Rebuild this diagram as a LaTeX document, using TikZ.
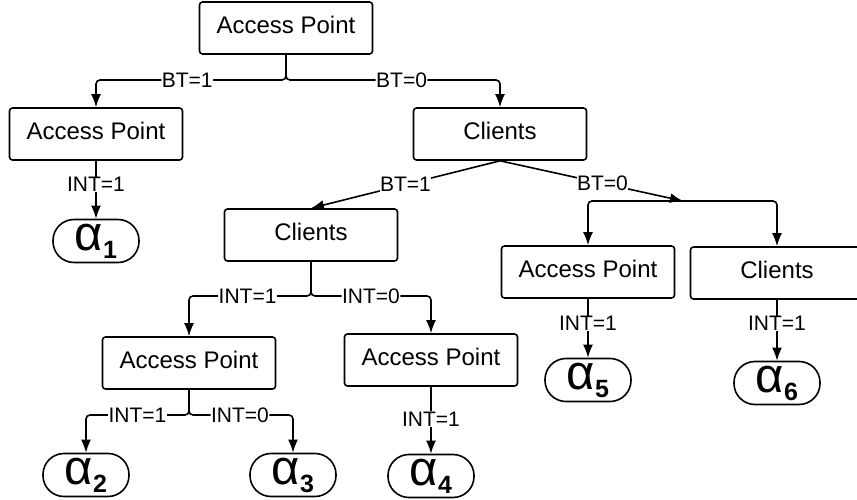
\documentclass[tikz,border=0pt]{standalone}
\usepackage{fontspec}
\setmainfont{Liberation Sans}
\usetikzlibrary{arrows.meta}
% outcome symbol: alpha with a bold index
\newcommand\alp[1]{{\fontsize{49}{49}\selectfont α}\raisebox{-8pt}{\fontsize{25}{25}\selectfont\bfseries #1}}
\begin{document}
\begin{tikzpicture}[x=1pt,y=-1pt,
  every node/.style={font=\fontsize{24}{28}\selectfont},
  box/.style={draw, line width=1.6pt, rounded corners=3pt, minimum width=173pt,
    minimum height=52pt, text depth=6pt, inner sep=0pt},
  term/.style={draw, line width=1.6pt, rounded corners=21pt, minimum width=86pt,
    minimum height=43pt, inner sep=0pt},
  lbl/.style={fill=white, inner sep=0.5pt, font=\fontsize{21}{24}\selectfont},
  conn/.style={line width=1.6pt},
  arr/.style={conn, -{Latex[length=13pt,width=10pt]}},
]
\useasboundingbox (0,0) rectangle (857,500);

% decision nodes
\node[box] (ap0) at (286,28) {Access Point};
\node[box] (ap1) at (96,134) {Access Point};
\node[box] (cl1) at (500,134) {Clients};
\node[box] (cl2) at (311,235) {Clients};
\node[box] (ap2) at (588,272) {Access Point};
\node[box] (cl3) at (777,273) {Clients};
\node[box] (ap3) at (189,363) {Access Point};
\node[box] (ap4) at (431,360) {Access Point};

% outcomes
\node[term] (a1) at (96,241) {\alp{1}};
\node[term] (a2) at (86,475) {\alp{2}};
\node[term] (a3) at (293,475) {\alp{3}};
\node[term] (a4) at (431,476) {\alp{4}};
\node[term] (a5) at (588,380) {\alp{5}};
\node[term] (a6) at (777,383) {\alp{6}};

% branch points
\coordinate (j0) at (286,80);
\coordinate (j1) at (683,201);
\coordinate (j2) at (311,296);
\coordinate (j3) at (189,415);

% connectors
\draw[arr, rounded corners=4pt] (ap0.south) -- (j0) -| node[lbl,pos=0.26]{BT=1} (ap1.north);
\draw[arr, rounded corners=4pt] (ap0.south) -- (j0) -| node[lbl,pos=0.27]{BT=0} (cl1.north);
\draw[arr] (ap1.south) -- node[lbl,pos=0.41]{INT=1} (a1.north);

\draw[arr] (cl1.south) -- node[lbl,pos=0.5]{BT=1} (cl2.north);
\draw[arr] (cl1.south) -- node[lbl,pos=0.56]{BT=0} (j1);
\draw[arr, rounded corners=4pt] (j1) -| (ap2.north);
\draw[arr, rounded corners=4pt] (j1) -| (cl3.north);
\draw[arr] (ap2.south) -- node[lbl,pos=0.42]{INT=1} (a5.north);
\draw[arr] (cl3.south) -- node[lbl,pos=0.39]{INT=1} (a6.north);

\draw[arr, rounded corners=4pt] (cl2.south) -- (j2) -| node[lbl,pos=0.26]{INT=1} (ap3.north);
\draw[arr, rounded corners=4pt] (cl2.south) -- (j2) -| node[lbl,pos=0.25]{INT=0} (ap4.north);

\draw[arr, rounded corners=4pt] (ap3.south) -- (j3) -| node[lbl,pos=0.25]{INT=1} (a2.north);
\draw[arr, rounded corners=4pt] (ap3.south) -- (j3) -| node[lbl,pos=0.245]{INT=0} (a3.north);
\draw[arr] (ap4.south) -- node[lbl,pos=0.48]{INT=1} (a4.north);
\end{tikzpicture}
\end{document}
